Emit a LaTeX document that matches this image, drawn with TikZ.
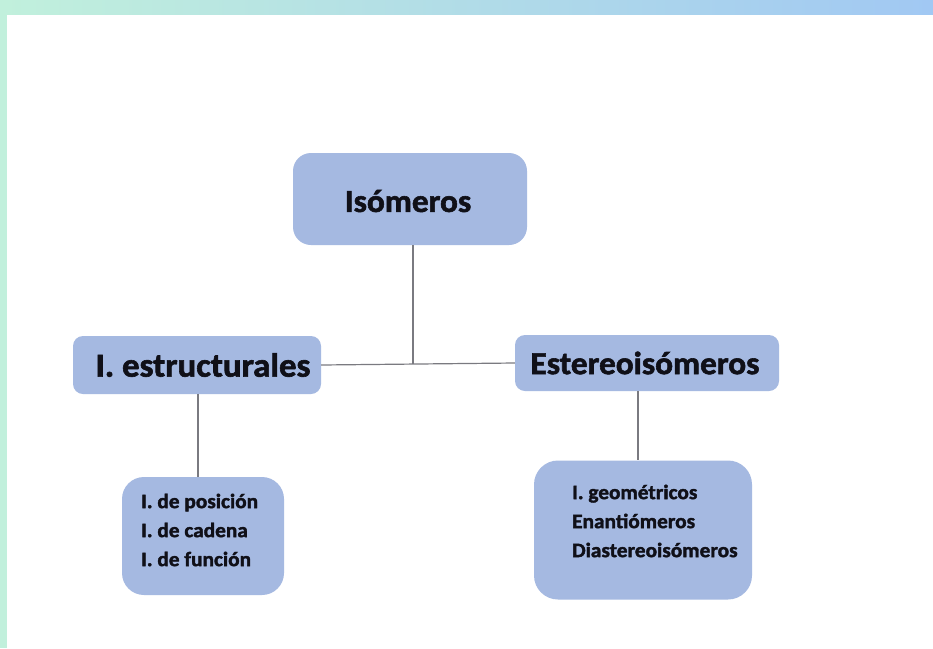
\documentclass[tikz,border=0pt]{standalone}
\usepackage{fontspec}
\setmainfont{Carlito}[BoldFeatures={FakeBold=1.8,FakeStretch=1.04}]
\definecolor{boxfill}{HTML}{A5B9E1}
\definecolor{lineg}{HTML}{7A7A80}
\definecolor{txt}{HTML}{101018}
\definecolor{bandL}{HTML}{C1F0DC}
\definecolor{bandR}{HTML}{A1C8F3}
\begin{document}
\begin{tikzpicture}[x=1pt,y=-1pt,
  box/.style={fill=boxfill,draw=none,inner sep=0pt},
  bigtxt/.style={text=txt,font=\bfseries\fontsize{32}{36}\selectfont,inner sep=0pt},
  smalltxt/.style={text=txt,font=\bfseries\fontsize{20.5}{29}\selectfont,inner sep=0pt,align=left,anchor=west},
  conn/.style={draw=lineg,line width=1.2pt}]
\useasboundingbox (0,0) rectangle (933,648);
\fill[white] (0,0) rectangle (933,648);
\shade[left color=bandL,right color=bandR] (0,0) rectangle (933,14);
\fill[bandL] (0,0) rectangle (7,648);
% boxes
\node[box,minimum width=234pt,minimum height=92pt,rounded corners=18pt] (iso) at (410,199) {};
\node[bigtxt] (isot) at (408,201) {Isómeros};
\node[box,minimum width=248pt,minimum height=58pt,rounded corners=10pt] (est) at (197,365) {};
\node[bigtxt,font=\bfseries\fontsize{33.5}{36}\selectfont] (estt) at (203,365) {I. estructurales};
\node[box,minimum width=264pt,minimum height=56pt,rounded corners=10pt] (ste) at (647,363) {};
\node[bigtxt] (stet) at (645,363) {Estereoisómeros};
\node[box,minimum width=162pt,minimum height=118pt,rounded corners=22pt] (le) at (203,536) {};
\node[smalltxt] (let) at (141,530) {I. de posición\\I. de cadena\\I. de función};
\node[box,minimum width=218pt,minimum height=139pt,rounded corners=24pt] (ri) at (643,530) {};
\node[smalltxt] (rit) at (572,521) {I. geométricos\\Enantiómeros\\Diastereoisómeros};
% connectors
\coordinate (j) at (413,364);
\draw[conn] (iso.south -| j) -- (j);
\draw[conn] (est.east) -- (ste.west);
\draw[conn] (198,394) -- (198,477);
\draw[conn] (ste.south -| 638,0) -- (ri.north -| 638,0);
\end{tikzpicture}
\end{document}
